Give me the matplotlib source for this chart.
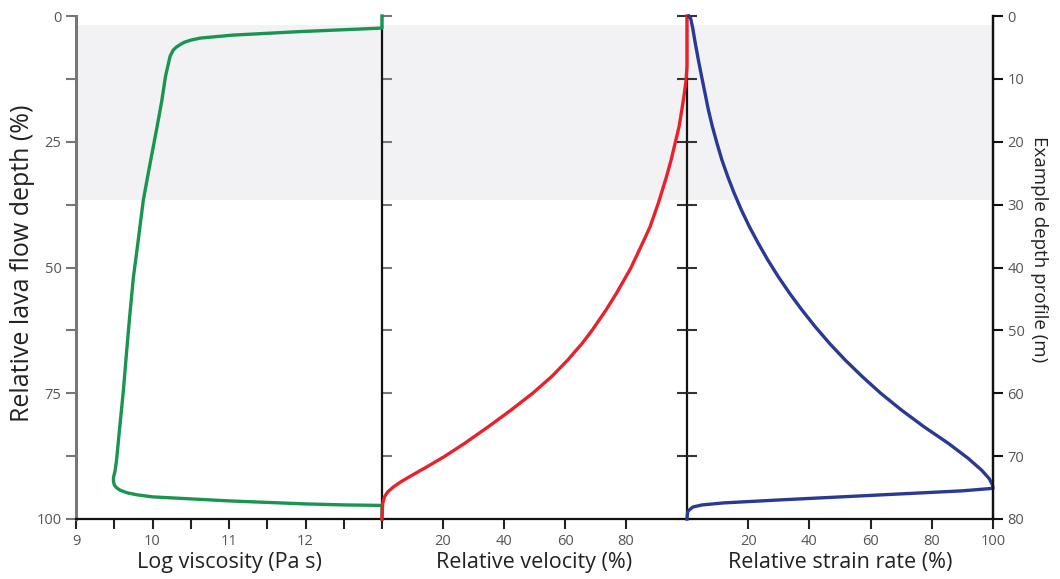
import matplotlib
matplotlib.use("Agg")
import matplotlib.pyplot as plt

plt.rcParams['font.family'] = ['Open Sans', 'DejaVu Sans']

# ---- data (depth in % of lava flow thickness) ----
visc_depth = [0, 2.4, 3.1, 3.8, 4.4, 4.8, 5.2, 5.6, 6.2, 6.8, 8, 10, 12, 17, 22, 30, 36.6,
              45, 52, 60, 67, 74.4, 82, 88.3, 90.5, 91.7, 92.5, 93.2, 93.8, 94.3, 94.8,
              95.2, 95.6, 96.0, 96.4, 96.7, 97.0, 97.2, 97.3, 100]
visc_value = [13.0, 13.0, 11.93, 11.05, 10.62, 10.5, 10.42, 10.37, 10.31, 10.27, 10.23,
              10.2, 10.17, 10.12, 10.06, 9.96, 9.88, 9.81, 9.75, 9.70, 9.66, 9.62, 9.57,
              9.53, 9.51, 9.49, 9.49, 9.5, 9.53, 9.58, 9.67, 9.8, 10.0, 10.5, 11.0, 11.5,
              12.0, 12.5, 13.0, 13.0]

vel_depth = [0, 10, 12.7, 15.5, 18.7, 22, 25.3, 28.6, 31.9, 37.2, 41.9, 45.2, 50.2, 55.1,
             58.4, 62.4, 65.1, 68.4, 71.7, 75.0, 78.3, 81.6, 85.0, 87.6, 89.6, 91.6,
             92.6, 93.6, 94.6, 95.6, 97, 100]
vel_value = [100, 100, 99.7, 99.1, 98.3, 97.4, 96.1, 94.8, 93.3, 90.6, 87.9, 85.4, 81.5,
             76.9, 73.5, 69.0, 65.6, 60.9, 55.6, 49.4, 42.4, 35.0, 27.0, 20.4, 14.8, 9.0,
             6.2, 3.8, 1.9, 0.8, 0.2, 0]

strain_depth = [0, 0.5, 2.5, 5.4, 8.7, 12.1, 15.4, 18.7, 22, 25.3, 28.6, 31.9, 35.2, 38.6,
                41.9, 45.2, 48.5, 51.8, 55.1, 58.4, 61.7, 65.1, 68.4, 71.7, 75, 78.3, 81.6,
                85.0, 88, 90.3, 92.0, 93.2, 93.9, 94.4, 95.2, 96.2, 96.8, 97.2, 97.6, 98.2,
                98.6, 100]
strain_value = [0.6, 1.2, 1.9, 2.7, 3.7, 4.8, 5.9, 7.0, 8.3, 9.8, 11.4, 13.3, 15.4, 17.8,
                20.4, 23.3, 26.4, 29.8, 33.5, 37.5, 41.8, 46.6, 51.7, 57.3, 63.3, 70.0,
                77.3, 85.5, 92, 96.3, 98.8, 99.8, 100, 90, 63.6, 30.5, 12, 5, 2, 0.7, 0.2, 0]

depth_ticks = [0, 12.5, 25, 37.5, 50, 62.5, 75, 87.5, 100]
depth_labels = ['0', '', '25', '', '50', '', '75', '', '100']
visc_ticks = [9, 9.5, 10, 10.5, 11, 11.5, 12, 12.5, 13]
visc_labels = ['9', '', '10', '', '11', '', '12', '', '']
pct_ticks_mid = [20, 40, 60, 80]
pct_ticks_right = [20, 40, 60, 80, 100]
metre_ticks = [0, 10, 20, 30, 40, 50, 60, 70, 80]
shade_top, shade_bottom = 1.8, 36.6

# ---- layout ----
W, H = 1060, 579
fig = plt.figure(figsize=(W / 100, H / 100), dpi=100)
x0, x1, x2, x3 = 76, 382, 687, 993
ytop, ybot = 16, 519
def rect(a, b):
    return [a / W, 1 - ybot / H, (b - a) / W, (ybot - ytop) / H]

green = '#1a9550'
red = '#e8222b'
blue = '#2a3a92'
shade = '#f2f2f4'
tickcol = '#555555'
labcol = '#222222'
lw = 2.4
tfs = 10.5

# background shading band spanning all three panels
bg = fig.add_axes(rect(x0, x3), zorder=0)
bg.set_ylim(100, 0)
bg.axhspan(shade_top, shade_bottom, color=shade, lw=0)
bg.axis('off')

ax1 = fig.add_axes(rect(x0, x1), zorder=2)
ax2 = fig.add_axes(rect(x1, x2), zorder=2)
ax3 = fig.add_axes(rect(x2, x3), zorder=2)

for ax in (ax1, ax2, ax3):
    ax.set_ylim(100, 0)
    ax.set_yticks(depth_ticks)
    ax.tick_params(axis='y', which='both', left=False, right=True, direction='in',
                   length=7, width=1.5, color='#333333', labelleft=False, labelright=False)
    ax.tick_params(axis='x', direction='out', length=7, width=1.5, color='#222222',
                   labelsize=tfs, labelcolor=tickcol, pad=4)
    ax.spines['top'].set_visible(False)
    for s in ('bottom', 'right', 'left'):
        ax.spines[s].set_linewidth(1.6)
        ax.spines[s].set_color('#111111')
    ax.set_facecolor('none')

ax1.plot(visc_value, visc_depth, color=green, lw=lw, solid_joinstyle='round', zorder=3, clip_on=False)
ax1.set_xlim(9, 13)
ax1.set_xticks(visc_ticks)
ax1.set_xticklabels(visc_labels)
ax1.tick_params(axis='y', left=True, direction='out', labelleft=True, labelsize=tfs,
                labelcolor=tickcol, color='#777777', length=7)
ax1.set_yticklabels(depth_labels)
ax1.spines['left'].set_color('#777777')
ax1.spines['left'].set_linewidth(2.2)
ax1.set_xlabel('Log viscosity (Pa s)', fontsize=15.5, color=labcol, labelpad=2)

ax2.plot(vel_value, vel_depth, color=red, lw=lw, solid_joinstyle='round', zorder=3, clip_on=False)
ax2.set_xlim(0, 100)
ax2.set_xticks(pct_ticks_mid)
ax2.spines['left'].set_visible(False)
ax2.set_xlabel('Relative velocity (%)', fontsize=15.5, color=labcol, labelpad=2)

ax3.plot(strain_value, strain_depth, color=blue, lw=lw, solid_joinstyle='round', zorder=3, clip_on=False)
ax3.set_xlim(0, 100)
ax3.set_xticks(pct_ticks_right)
ax3.spines['left'].set_visible(False)
ax3.tick_params(axis='y', right=False)
ax3.set_xlabel('Relative strain rate (%)', fontsize=15.5, color=labcol, labelpad=2)

axr = ax3.twinx()
axr.set_ylim(80, 0)
axr.set_yticks(metre_ticks)
axr.tick_params(axis='y', direction='out', length=7, width=1.5, color='#111111',
                labelsize=tfs, labelcolor=tickcol)
for s in ('top', 'left', 'bottom'):
    axr.spines[s].set_visible(False)
axr.spines['right'].set_linewidth(1.6)
axr.spines['right'].set_color('#111111')

# axis titles placed where the reference has them
fig.text(23 / W, 1 - 263 / H, 'Relative lava flow depth (%)', rotation=90,
         ha='center', va='center', fontsize=18, color=labcol)
fig.text(1039 / W, 1 - 249 / H, 'Example depth profile (m)', rotation=-90,
         ha='center', va='center', fontsize=13.5, color=labcol)

fig.savefig('out.png', dpi=100)
